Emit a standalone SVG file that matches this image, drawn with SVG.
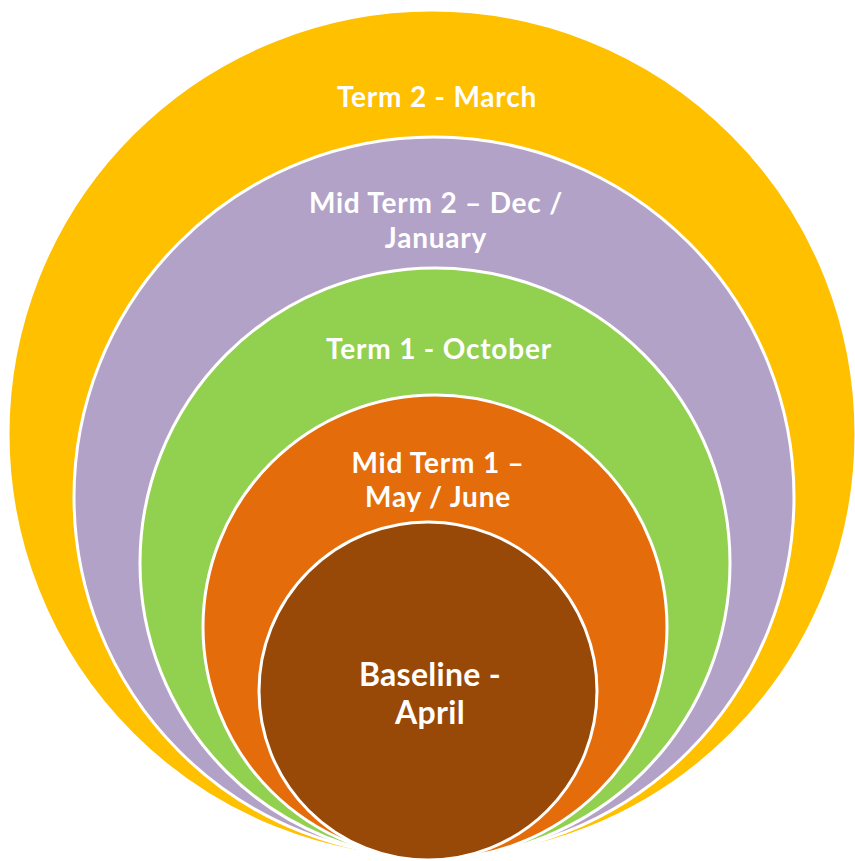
<svg xmlns="http://www.w3.org/2000/svg" width="855" height="861" viewBox="0 0 855 861">
<style>
.ring{stroke:#ffffff;stroke-width:3}
.t{font-family:Lato,"Open Sans","Liberation Sans",sans-serif;font-weight:bold;fill:#ffffff;text-anchor:middle;font-size:28px;letter-spacing:0.8px}
.tb{font-size:32px;letter-spacing:0.3px}
</style>
<rect width="855" height="861" fill="#ffffff"/>
<g id="term2">
<circle class="ring" cx="432" cy="434" r="424" fill="#FFC000"/>
<text class="t" x="437" y="107">Term 2 - March</text>
</g>
<g id="midterm2">
<circle class="ring" cx="434" cy="497" r="360" fill="#B3A2C7"/>
<text class="t" x="436" y="213">Mid Term 2 – Dec /</text>
<text class="t" x="436" y="248">January</text>
</g>
<g id="term1">
<circle class="ring" cx="435" cy="563" r="295" fill="#92D050"/>
<text class="t" x="439" y="359">Term 1 - October</text>
</g>
<g id="midterm1">
<circle class="ring" cx="435" cy="627" r="232" fill="#E46C0A"/>
<text class="t" x="438" y="473">Mid Term 1 –</text>
<text class="t" x="438" y="507">May / June</text>
</g>
<g id="baseline">
<circle class="ring" cx="428" cy="691" r="169" fill="#984807"/>
<text class="t tb" x="430" y="686">Baseline -</text>
<text class="t tb" x="430" y="724">April</text>
</g>
</svg>
